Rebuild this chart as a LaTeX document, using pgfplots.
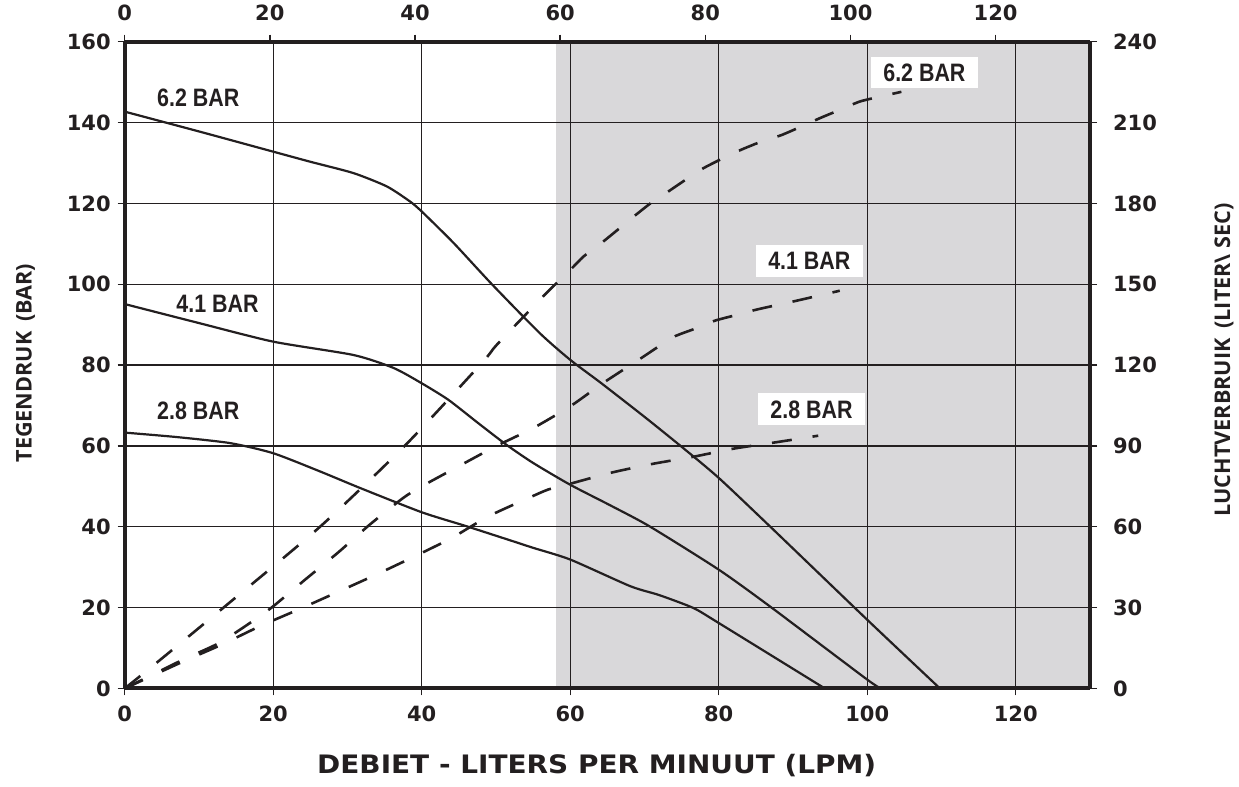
\documentclass[border=0pt]{standalone}
\usepackage{pgfplots}
\pgfplotsset{compat=1.18}
\usepackage{fontspec}
\setmainfont{Open Sans}
\newfontfamily\tickfont{DejaVu Sans}
\newfontfamily\widefont[FakeStretch=1.1]{DejaVu Sans}
\newfontfamily\condfont[FakeStretch=0.85]{Liberation Sans}

\definecolor{ink}{RGB}{35,31,32}
\definecolor{zone}{RGB}{217,216,218}

\pgfplotsset{
  base/.style={
    scale only axis, width=482.65pt, height=323.4pt,
    xmin=0, xmax=130,
    axis line style={ink, line width=2pt},
    tick align=outside, major tick length=3.5pt,
    tick style={ink, line width=0.7pt},
    minor tick num=0,
    /pgf/number format/assume math mode=true,
    tick label style={font=\tickfont\bfseries\fontsize{10.5}{12}\selectfont, text=ink},
  },
  solid curve/.style={ink, line width=1.1pt, smooth, tension=0.4, no markers},
  dash curve/.style={ink, line width=1.3pt, dash pattern=on 10pt off 10.5pt, smooth, tension=0.4, no markers},
}
\tikzset{
  curvelab/.style={font=\condfont\bfseries\fontsize{12.6}{14}\selectfont, text=ink,
    inner sep=0pt, text height=9pt, text depth=0pt, anchor=center},
  boxed/.style={fill=white, minimum width=53.3pt, minimum height=15.8pt},
}

\begin{document}
\begin{tikzpicture}
% left axis: back pressure (bar), bottom axis: flow
\begin{axis}[base,
    ymin=0, ymax=160,
    axis x line*=bottom, axis y line*=left,
    xtick={0,20,...,120}, ytick={0,20,...,160},
    grid=major, grid style={ink, line width=0.7pt},
    axis on top,
    xticklabel style={yshift=-1.75pt},
  ]
  \addplot[fill=zone, draw=none, forget plot] coordinates {(58.1,160) (130,160)} \closedcycle;

  % 6.2 bar
  \addplot[solid curve] coordinates {
    (0,142.7) (10,137.8) (20,132.8) (25,130.3) (30.8,127.5) (35.3,124.2)
    (38.4,120.5) (40,118) (44.3,110.2) (49.4,100.1) (55.9,87.9) (60,81.3)
    (64.2,75.5) (70,67.2) (75.2,59.5) (80,52.1) (86.9,40.1) (100,17) (109.8,0)};
  % 4.1 bar
  \addplot[solid curve] coordinates {
    (0,95.1) (10,90.4) (20,85.8) (30.8,82.5) (36.2,79.3) (40,75.5) (43.6,71.4)
    (47.5,65.8) (51.4,60.3) (55,55.8) (60,50.4) (65.4,45.3) (70.7,40.1)
    (80,29.4) (86.9,20.3) (100,2.2) (101.9,0)};
  % 2.8 bar
  \addplot[solid curve] coordinates {
    (0,63.3) (7,62.2) (14.2,60.7) (20,58.2) (26.3,53.7) (31.7,49.6) (40,43.6)
    (46.1,40.1) (52,36.6) (55,34.8) (60,31.9) (68.1,25.3) (72,23.1) (76.6,19.9)
    (80,16.2) (94.3,0)};
\end{axis}

% right axis: air consumption
\begin{axis}[base,
    ymin=0, ymax=240,
    axis x line=none, axis y line*=right,
    ytick={0,30,...,240},
    yticklabel style={xshift=4.5pt},
    clip mode=individual,
  ]
  % 6.2 bar
  \addplot[dash curve] coordinates {
    (0,0) (4.5,10) (13.3,30) (26.3,60) (37.7,90) (48.1,120.8) (50.1,127.5)
    (55.9,144.2) (58,150) (60,155.3) (61.8,160.3) (64.2,165.3) (66.3,170)
    (68.5,175) (70.8,180) (73.2,184.4) (75.5,188.7) (77.9,193) (80.6,196.8)
    (83.1,200) (85.8,203) (88.4,205.3) (91.1,208.5) (93.6,211.6) (96.3,214.7)
    (99,217.8) (101.7,219.6) (104.6,221.4)};
  % 4.1 bar
  \addplot[dash curve] coordinates {
    (0,0) (7.7,10.5) (12.8,17) (17.5,25.5) (20,30.5) (24.3,40.4) (28.8,50.6)
    (33,60.8) (37.5,70.7) (40,75) (45,82.5) (50,89.9) (55,96.6) (60,104.7)
    (64.4,113.3) (69.4,122.3) (71.9,126.9) (74.1,130.7) (77,133.7) (79.5,136.5)
    (82.4,138.6) (85.1,140.6) (90.5,143.9) (96.3,147.6)};
  % 2.8 bar
  \addplot[dash curve] coordinates {
    (0,0) (7.7,9.8) (13,16.2) (18.2,23.1) (23.4,29.3) (28.6,35.7) (33.9,42.3)
    (39.1,49.1) (44,55.8) (49,63.9) (54.4,70.7) (57,73.8) (59.5,75.6) (65.4,80)
    (71,83.3) (76.6,86) (82,89) (87.8,91.4) (93.4,93.8)};

  \node[curvelab] at (axis cs:9.9,219.2) {6.2 BAR};
  \node[curvelab] at (axis cs:12.5,143) {4.1 BAR};
  \node[curvelab] at (axis cs:9.9,103.1) {2.8 BAR};
  \node[curvelab, boxed] at (axis cs:107.7,228.6) {6.2 BAR};
  \node[curvelab, boxed] at (axis cs:92.2,158.7) {4.1 BAR};
  \node[curvelab, boxed] at (axis cs:92.5,103.6) {2.8 BAR};

  \node[font=\widefont\bfseries\fontsize{12.7}{14}\selectfont, text=ink, anchor=base]
    at ([yshift=-42.4pt]rel axis cs:0.489,0) {DEBIET - LITERS PER MINUUT (LPM)};
  \node[font=\bfseries\fontsize{10.8}{13}\selectfont, text=ink, anchor=base, rotate=90]
    at ([xshift=-46.5pt]rel axis cs:0,0.503) {TEGENDRUK\hspace{0.45em}(BAR)};
  \node[font=\bfseries\fontsize{10.8}{13}\selectfont, text=ink, anchor=base, rotate=90]
    at ([xshift=70pt]rel axis cs:1,0.508) {LUCHTVERBRUIK\hspace{0.45em}(LITER\textbackslash\ SEC)};

  \coordinate (SW) at (rel axis cs:0,0);
  \coordinate (NE) at (rel axis cs:1,1);
\end{axis}

% top axis: same flow scale as printed on the original (slightly compressed)
\begin{axis}[base,
    xmax=133, ymin=0, ymax=1,
    axis x line*=top, axis y line=none,
    xtick={0,20,...,120},
    xticklabel style={yshift=3.3pt},
  ]
\end{axis}

\pgfresetboundingbox
\path[use as bounding box] ([shift={(-62.35pt,-49.25pt)}]SW) rectangle ([shift={(74.5pt,20.85pt)}]NE);
\end{tikzpicture}
\end{document}
